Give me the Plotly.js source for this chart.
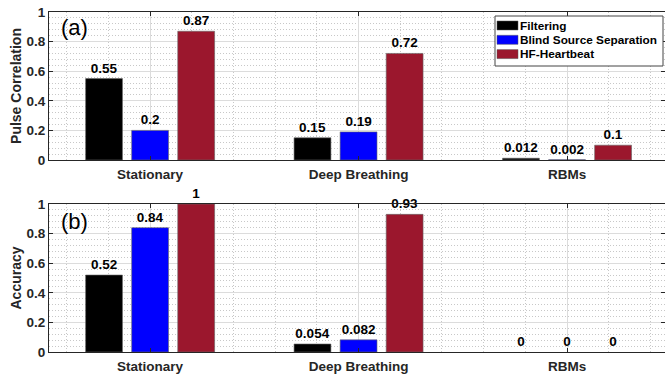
<!DOCTYPE html>
<html>
<head>
<meta charset="utf-8">
<script src="https://cdn.plot.ly/plotly-3.0.1.min.js"></script>
<style>html,body{margin:0;padding:0;background:#fff;}#chart{width:665px;height:375px;}</style>
</head>
<body>
<div id="chart"></div>
<script>
const categories = ['Stationary', 'Deep Breathing', 'RBMs'];
const seriesNames = ['Filtering', 'Blind Source Separation', 'HF-Heartbeat'];
const seriesColors = ['#000000', '#0000ff', '#9b172d'];
const pulseCorrelation = {
  'Filtering': [0.55, 0.15, 0.012],
  'Blind Source Separation': [0.2, 0.19, 0.002],
  'HF-Heartbeat': [0.87, 0.72, 0.1]
};
const accuracy = {
  'Filtering': [0.52, 0.054, 0],
  'Blind Source Separation': [0.84, 0.082, 0],
  'HF-Heartbeat': [1, 0.93, 0]
};
const yTickVals = [0, 0.2, 0.4, 0.6, 0.8, 1];
const yTickText = ['0', '0.2', '0.4', '0.6', '0.8', '1'];

const W = 665, H = 375, ML = 49, MR = 0;
const PW = W - ML - MR;
const px = v => (v - ML) / PW;      // pixel x -> paper x
const py = v => 1 - v / H;          // pixel y -> paper y

const xPos = categories.map((c, i) => i);
const FONT = 'Liberation Sans, Arial, Helvetica, sans-serif';
const traces = [];
function addSeries(data, xa, ya) {
  seriesNames.forEach((name, k) => {
    const vals = data[name];
    traces.push({
      type: 'bar', name: name, x: xPos, y: vals,
      xaxis: xa, yaxis: ya,
      marker: {color: seriesColors[k], line: {color: '#666', width: vals.map(v => v > 0 ? 0.6 : 0)}},
      text: vals.map(String), textposition: 'outside',
      textfont: {family: FONT, size: 13.5, color: '#000', weight: 'bold'},
      cliponaxis: false, showlegend: false
    });
  });
}
addSeries(pulseCorrelation, 'x', 'y');
addSeries(accuracy, 'x2', 'y2');

const xRange = [-0.485, 2.47];
const tickFont = {family: FONT, size: 13.5, color: '#262626', weight: 'bold'};
const minorDash = '1px,2px';
function xAxis(anchor) {
  return {
    anchor: anchor, domain: [0, 1], range: xRange,
    tickmode: 'array', tickvals: xPos, ticktext: categories,
    tickfont: tickFont, ticklabelstandoff: 2,
    ticks: 'inside', ticklen: 4, tickcolor: '#262626',
    showline: true, linecolor: '#262626', linewidth: 1, mirror: 'ticks',
    showgrid: true, gridcolor: '#dcdcdc', gridwidth: 1,
    minor: {dtick: 0.2, tick0: 0, showgrid: true, gridcolor: '#c8c8c8', griddash: minorDash, gridwidth: 1},
    zeroline: false, fixedrange: true
  };
}
function yAxis(anchor, domain, title) {
  return {
    anchor: anchor, domain: domain, range: [0, 1],
    tickmode: 'array', tickvals: yTickVals, ticktext: yTickText,
    tickfont: tickFont,
    ticks: 'inside', ticklen: 4, tickcolor: '#262626',
    showline: true, linecolor: '#262626', linewidth: 1, mirror: 'ticks',
    showgrid: true, gridcolor: '#dcdcdc', gridwidth: 1,
    minor: {dtick: 0.04, tick0: 0, showgrid: true, gridcolor: '#c8c8c8', griddash: minorDash, gridwidth: 1},
    zeroline: false,
    title: {text: title, font: {family: FONT, size: 14, color: '#262626', weight: 'bold'}, standoff: 1},
    fixedrange: true
  };
}

// legend (drawn as shapes + annotations from the series names/colours)
const shapes = [];
const annotations = [];
const legBox = {x0: 495, x1: 663, y0: 16, y1: 66};
shapes.push({type: 'rect', xref: 'paper', yref: 'paper', layer: 'above',
  x0: px(legBox.x0), x1: px(legBox.x1), y0: py(legBox.y1), y1: py(legBox.y0),
  fillcolor: '#ffffff', line: {color: '#444', width: 1}});
seriesNames.forEach((name, k) => {
  const cy = 25.5 + k * 14.3;
  shapes.push({type: 'rect', xref: 'paper', yref: 'paper', layer: 'above',
    x0: px(497), x1: px(518), y0: py(cy + 4.5), y1: py(cy - 4.5),
    fillcolor: seriesColors[k], line: {color: '#555', width: 0.5}});
  annotations.push({text: name, xref: 'paper', yref: 'paper', x: px(518), y: py(cy),
    xanchor: 'left', yanchor: 'middle', showarrow: false,
    font: {family: FONT, size: 11.8, color: '#000', weight: 'bold'}});
});
annotations.push({text: '(a)', xref: 'paper', yref: 'paper', x: px(59), y: py(28), xanchor: 'left', yanchor: 'middle',
  showarrow: false, font: {family: FONT, size: 22, color: '#000'}});
annotations.push({text: '(b)', xref: 'paper', yref: 'paper', x: px(59), y: py(221), xanchor: 'left', yanchor: 'middle',
  showarrow: false, font: {family: FONT, size: 22, color: '#000'}});

const layout = {
  width: W, height: H,
  margin: {l: ML, r: MR, t: 0, b: 0},
  paper_bgcolor: '#fff', plot_bgcolor: '#fff',
  barmode: 'group', bargap: 0.337, bargroupgap: 0.2,
  xaxis: xAxis('y'),
  yaxis: yAxis('x', [py(160), py(12)], 'Pulse Correlation'),
  xaxis2: xAxis('y2'),
  yaxis2: yAxis('x2', [py(352), py(204)], 'Accuracy'),
  showlegend: false,
  shapes: shapes,
  annotations: annotations
};

Plotly.newPlot('chart', traces, layout, {displayModeBar: false, staticPlot: true});
</script>
</body>
</html>
